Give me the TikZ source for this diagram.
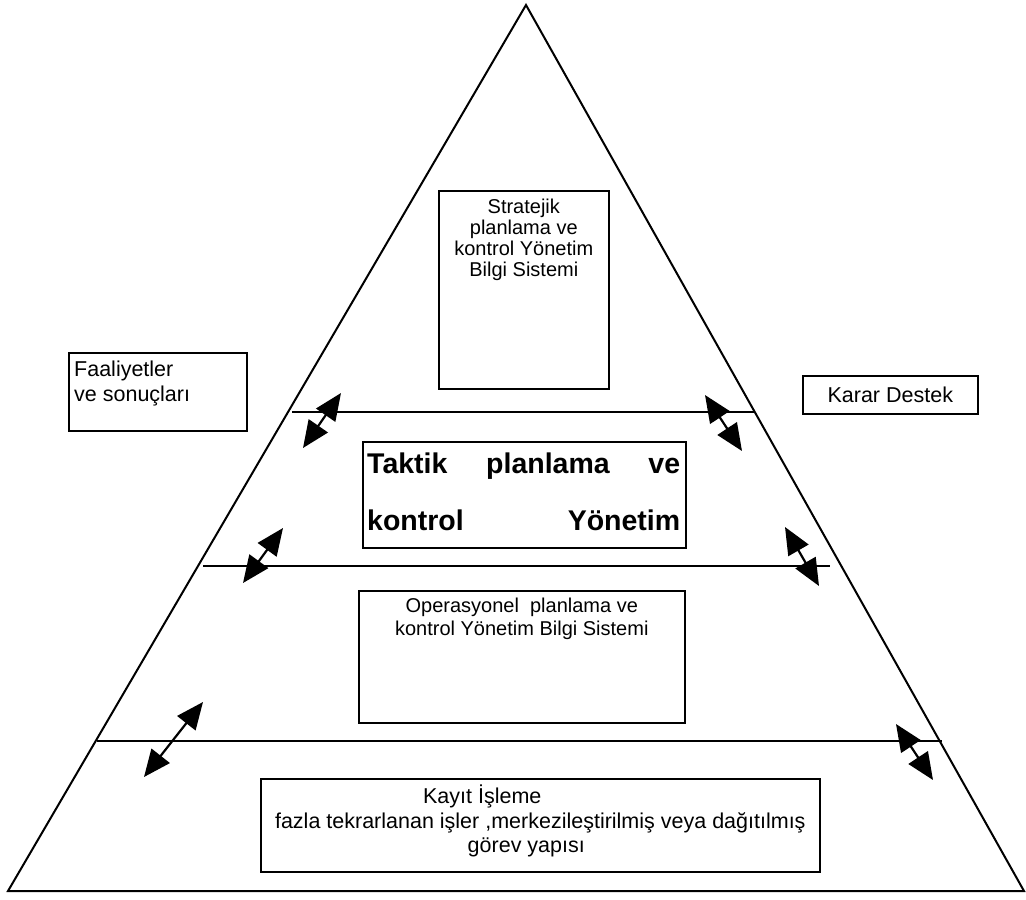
\documentclass[tikz,border=0pt]{standalone}
\usepackage{fontspec}
\setmainfont{Liberation Sans}
\usetikzlibrary{arrows.meta}
\begin{document}
\begin{tikzpicture}[x=1pt,y=-1pt,
  edge/.style={line width=2pt, line join=miter},
  level/.style={line width=1.8pt},
  box/.style={draw, line width=1.6pt, inner sep=0pt},
  txt/.style={inner sep=0pt, font=\fontsize{21.5}{24.5}\selectfont},
  inner/.style={inner sep=0pt, font=\fontsize{20}{20.8}\selectfont},
  link/.style={line width=2.2pt, {Triangle[length=27pt,width=23pt]}-{Triangle[length=27pt,width=23pt]}}]
\useasboundingbox (0,0) rectangle (1026,900);

% pyramid outline
\coordinate (apex) at (526,5);
\coordinate (bl) at (8,891);
\coordinate (br) at (1024,891);
\draw[edge] (bl) -- (apex) -- (br) -- cycle;

% levels
\coordinate (l1a) at (292,412); \coordinate (l1b) at (755,412);
\coordinate (l2a) at (203,566); \coordinate (l2b) at (830,566);
\coordinate (l3a) at (97,741);  \coordinate (l3b) at (942,741);
\draw[level] (l1a) -- (l1b);
\draw[level] (l2a) -- (l2b);
\draw[level] (l3a) -- (l3b);

% strategic box
\node[box, minimum width=170, minimum height=198, anchor=north west] (strat) at (438,190) {};
\node[inner, align=center, anchor=north] (strattxt) at ([yshift=-9pt]strat.north)
  {Stratejik\\planlama ve\\kontrol Yönetim\\Bilgi Sistemi};

% side boxes
\node[box, minimum width=178, minimum height=78, anchor=north west] (faal) at (68,352) {};
\node[txt, align=left, anchor=north west] (faaltxt) at ([xshift=6pt,yshift=-9pt]faal.north west)
  {Faaliyetler\\ve sonuçları};
\node[box, minimum width=175, minimum height=38, anchor=north west] (karar) at (802,375) {};
\node[txt] (karartxt) at (karar.center) {Karar Destek};

% tactical box
\node[box, minimum width=323, minimum height=106, anchor=north west] (takt) at (362,441) {};
\node[inner sep=0pt, font=\bfseries\fontsize{28.5}{57}\selectfont, align=left, anchor=north west] (takttxt)
  at ([xshift=5pt,yshift=-12pt]takt.north west)
  {\hbox to 313pt{Taktik\hfill planlama\hfill ve}\\
   \hbox to 313pt{kontrol\hfill Yönetim}};

% operational box
\node[box, minimum width=326, minimum height=132, anchor=north west] (oper) at (358,590) {};
\node[inner, align=center, anchor=north] (opertxt) at ([yshift=-8pt]oper.north)
  {Operasyonel\ \ planlama ve\\[2pt]kontrol Yönetim Bilgi Sistemi};

% transaction processing box
\node[box, minimum width=559, minimum height=93, anchor=north west] (kayit) at (260,778) {};
\node[txt, align=center, anchor=north] (kayittxt) at ([yshift=-7pt]kayit.north)
  {Kayıt İşleme\hspace*{116pt}\\fazla tekrarlanan işler ,merkezileştirilmiş veya dağıtılmış\\görev yapısı\hspace*{28pt}};

% arrows between levels
\coordinate (a1s) at (341,393); \coordinate (a1e) at (303,448);
\coordinate (a2s) at (705,395); \coordinate (a2e) at (742,451);
\coordinate (a3s) at (785,527); \coordinate (a3e) at (819,586);
\coordinate (a4s) at (283,528); \coordinate (a4e) at (243,583);
\coordinate (a5s) at (203,702); \coordinate (a5e) at (144,777);
\coordinate (a6s) at (896,724); \coordinate (a6e) at (933,780);
\foreach \k in {1,...,6} {\draw[link] (a\k s) -- (a\k e);}
\end{tikzpicture}
\end{document}
